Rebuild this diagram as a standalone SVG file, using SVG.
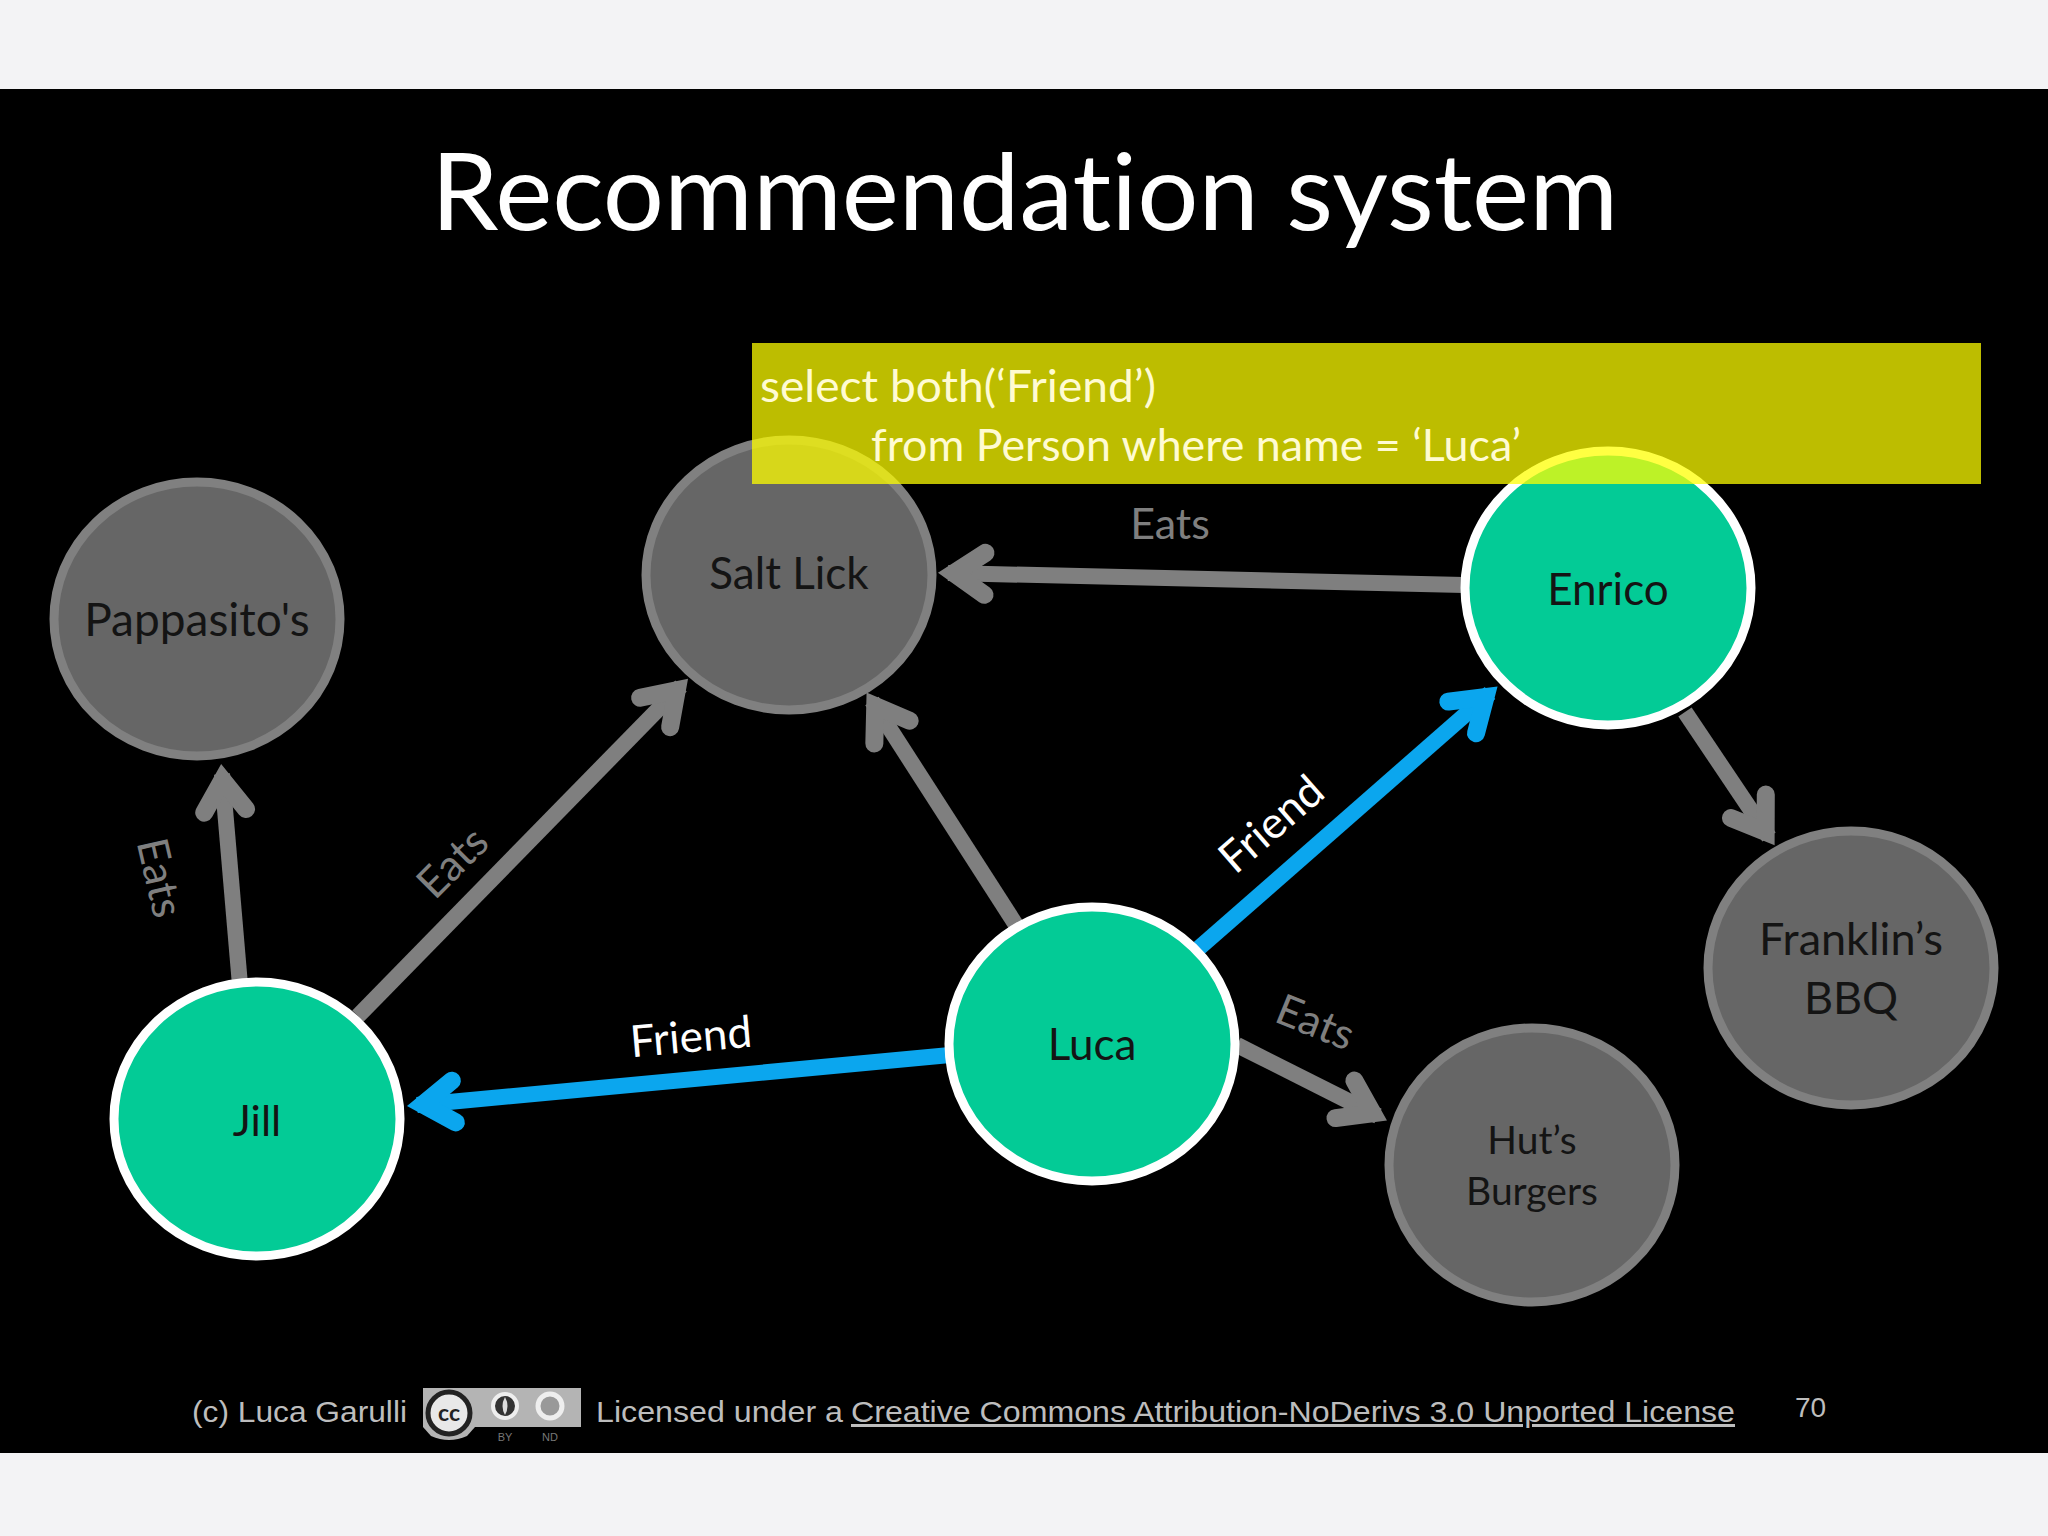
<svg xmlns="http://www.w3.org/2000/svg" width="2048" height="1536" viewBox="0 0 2048 1536">
<style>
text{font-family:"Lato","Open Sans","Liberation Sans",sans-serif;font-variant-ligatures:none}
.res{fill:#666666;stroke:#808080;stroke-width:9}
.per{fill:#03cb96;stroke:#ffffff;stroke-width:9}
.lab{font-size:43px;fill:#141414;text-anchor:middle}
.el{font-size:43px;fill:#7f7f7f;text-anchor:middle}
.fr{font-size:44px;fill:#ffffff;text-anchor:middle}
.g{fill:none;stroke:#7f7f7f;stroke-width:16;marker-end:url(#ag)}
.b{fill:none;stroke:#0ba6ee;stroke-width:16;marker-end:url(#ab)}
.q{font-size:44px;fill:#fffbd2}
.ft{font-family:"Liberation Sans",Arial,sans-serif;font-size:30px;fill:#bdbdbd}
.bl{font-family:"Liberation Sans",Arial,sans-serif;font-size:11px;fill:#777;text-anchor:middle}
</style>
<defs>
<marker id="ag" markerUnits="userSpaceOnUse" markerWidth="90" markerHeight="90" refX="66" refY="45" orient="auto" overflow="visible">
<path d="M29,24 L60,45 L29,66" fill="none" stroke="#7f7f7f" stroke-width="18" stroke-linecap="round" stroke-linejoin="miter" stroke-miterlimit="6"/>
</marker>
<marker id="ab" markerUnits="userSpaceOnUse" markerWidth="90" markerHeight="90" refX="66" refY="45" orient="auto" overflow="visible">
<path d="M29,24 L60,45 L29,66" fill="none" stroke="#0ba6ee" stroke-width="18" stroke-linecap="round" stroke-linejoin="miter" stroke-miterlimit="6"/>
</marker>
</defs>
<rect width="2048" height="1536" fill="#f3f3f5"/>
<rect y="89" width="2048" height="1364" fill="#000000"/>
<text id="title" x="431" y="230" font-size="106" fill="#ffffff" textLength="1187" lengthAdjust="spacingAndGlyphs">Recommendation system</text>
<g id="connectors">
<line class="g" x1="1464" y1="585" x2="948" y2="573"/>
<line class="g" x1="240" y1="985" x2="222" y2="774"/>
<line class="g" x1="358" y1="1016" x2="681" y2="686"/>
<line class="g" x1="1016" y1="925" x2="872" y2="701"/>
<line class="b" x1="1199" y1="948" x2="1490" y2="693"/>
<line class="b" x1="950" y1="1055" x2="417" y2="1105"/>
<line class="g" x1="1685" y1="712" x2="1769" y2="837"/>
<line class="g" x1="1237" y1="1045" x2="1378" y2="1116"/>
</g>
<g id="node-pappasitos"><ellipse class="res" cx="197" cy="619" rx="143" ry="137"/><text class="lab" style="font-size:46px" x="197" y="636">Pappasito's</text></g>
<g id="node-saltlick"><ellipse class="res" cx="789" cy="575" rx="143" ry="135"/><text class="lab" style="font-size:44px" x="789" y="589">Salt Lick</text></g>
<g id="node-enrico"><ellipse class="per" cx="1608" cy="588" rx="143" ry="137"/><text class="lab" style="font-size:44px" x="1608" y="605">Enrico</text></g>
<g id="node-luca"><ellipse class="per" cx="1092" cy="1044" rx="143" ry="137"/><text class="lab" style="font-size:44px" x="1092" y="1060">Luca</text></g>
<g id="node-jill"><ellipse class="per" cx="257" cy="1119" rx="143" ry="137"/><text class="lab" x="257" y="1136">Jill</text></g>
<g id="node-franklins"><ellipse class="res" cx="1851" cy="968" rx="143" ry="137"/><text class="lab" style="font-size:45px" x="1851" y="955">Franklin’s</text><text class="lab" style="font-size:45px" x="1851" y="1014">BBQ</text></g>
<g id="node-huts"><ellipse class="res" cx="1532" cy="1165" rx="143" ry="137"/><text class="lab" style="font-size:39px" x="1532" y="1154">Hut’s</text><text class="lab" style="font-size:39px" x="1532" y="1205">Burgers</text></g>
<g id="edge-labels">
<text class="el" x="1170" y="539">Eats</text>
<text class="el" transform="translate(159,878) rotate(77)" y="14">Eats</text>
<text class="el" transform="translate(453,863) rotate(-45)" y="14">Eats</text>
<text class="el" transform="translate(1315,1023) rotate(22)" y="14">Eats</text>
<text class="fr" transform="translate(1272,825) rotate(-41)" y="14">Friend</text>
<text class="fr" transform="translate(691,1038) rotate(-5)" y="14">Friend</text>
</g>
<g id="query">
<rect x="752" y="343" width="1229" height="141" fill="#ffff00" fill-opacity="0.74"/>
<text class="q" x="760" y="402" textLength="396" lengthAdjust="spacingAndGlyphs">select both(‘Friend’)</text>
<text class="q" x="871" y="461" textLength="650" lengthAdjust="spacingAndGlyphs">from Person where name = ‘Luca’</text>
</g>
<g id="footer">
<text class="ft" x="192" y="1422" textLength="215" lengthAdjust="spacingAndGlyphs">(c) Luca Garulli</text>
<g id="cc-badge">
<rect x="423" y="1388" width="158" height="39" fill="#b4b4b4"/>
<path d="M423,1388 h52 v39 l-8,9 q-18,8 -36,0 l-8,-9 z" fill="#b4b4b4"/>
<circle cx="449" cy="1413" r="21" fill="#e8e8e8" stroke="#222" stroke-width="5"/>
<text x="449" y="1421" font-family="Liberation Sans, sans-serif" font-size="23" font-weight="bold" fill="#222" text-anchor="middle">cc</text>
<circle cx="505" cy="1406" r="12" fill="#333" stroke="#eee" stroke-width="4"/>
<path d="M505,1397 q5,9 0,18 q-5,-9 0,-18 z" fill="#ddd"/>
<circle cx="550" cy="1406" r="12" fill="#999" stroke="#eee" stroke-width="5"/>
<text class="bl" x="505" y="1441">BY</text>
<text class="bl" x="550" y="1441">ND</text>
</g>
<text class="ft" x="596" y="1422" textLength="247" lengthAdjust="spacingAndGlyphs">Licensed under a</text>
<text class="ft" x="851" y="1422" textLength="884" lengthAdjust="spacingAndGlyphs" text-decoration="underline">Creative Commons Attribution-NoDerivs 3.0 Unported License</text>
<text class="ft" x="1795" y="1417" style="font-size:28px">70</text>
</g>
</svg>
